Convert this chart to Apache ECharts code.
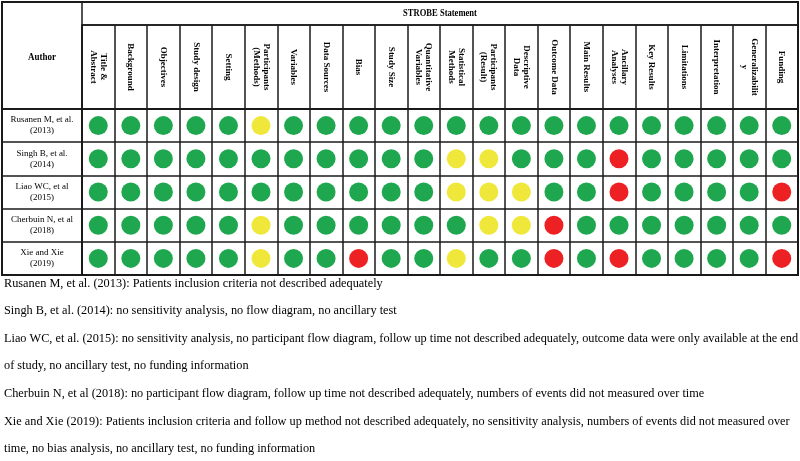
<!DOCTYPE html>
<html>
<head>
<meta charset="utf-8">
<title>STROBE Statement</title>
<script src="https://cdn.jsdelivr.net/npm/echarts@6/dist/echarts.min.js"></script>
<style>
  html, body { margin: 0; padding: 0; background: #fff; }
  #chart { width: 800px; height: 461px; }
</style>
</head>
<body>
<div id="chart"></div>
<script>
// STROBE items (columns)
var items = [
  'Title &\nAbstract', 'Background', 'Objectives', 'Study design', 'Setting',
  'Participants\n(Methods)', 'Variables', 'Data Sources', 'Bias', 'Study Size',
  'Quantitative\nVariables', 'Statistical\nMethods', 'Participants\n(Result)',
  'Descriptive\nData', 'Outcome Data', 'Main Results', 'Ancillary\nAnalyses',
  'Key Results', 'Limitations', 'Interpretation', 'Generalizabilit\ny', 'Funding'
];
var authors = [
  'Rusanen M, et al.\n(2013)',
  'Singh B, et al.\n(2014)',
  'Liao WC, et al\n(2015)',
  'Cherbuin N, et al\n(2018)',
  'Xie and Xie\n(2019)'
];
// 0 = green, 1 = yellow, 2 = red
var rusanen  = [0,0,0,0,0,1,0,0,0,0,0,0,0,0,0,0,0,0,0,0,0,0];
var singh    = [0,0,0,0,0,0,0,0,0,0,0,1,1,0,0,0,2,0,0,0,0,0];
var liao     = [0,0,0,0,0,0,0,0,0,0,0,1,1,1,0,0,2,0,0,0,0,2];
var cherbuin = [0,0,0,0,0,1,0,0,0,0,0,0,1,1,2,0,0,0,0,0,0,0];
var xie      = [0,0,0,0,0,1,0,0,2,0,0,1,0,0,2,0,2,0,0,0,0,2];
var rows = [rusanen, singh, liao, cherbuin, xie];

var notes = [
  'Rusanen M, et al. (2013): Patients inclusion criteria not described adequately',
  'Singh B, et al. (2014): no sensitivity analysis, no flow diagram, no ancillary test',
  'Liao WC, et al. (2015): no sensitivity analysis, no participant flow diagram, follow up time not described adequately, outcome data were only available at the end',
  'of study, no ancillary test, no funding information',
  'Cherbuin N, et al (2018): no participant flow diagram, follow up time not described adequately, numbers of events did not measured over time',
  'Xie and Xie (2019): Patients inclusion criteria and follow up method not described adequately, no sensitivity analysis, numbers of events did not measured over',
  'time, no bias analysis, no ancillary test, no funding information'
];

var colors = ['#1fa74f', '#efe83b', '#ed2024'];
var lineColor = '#1a1a1a';
var serif = '"Liberation Serif", "Times New Roman", serif';

var points = [];
rows.forEach(function (row, r) {
  row.forEach(function (v, c) {
    points.push([c, r, v]);
  });
});

var split = { show: true, interval: 0, lineStyle: { color: lineColor, width: 1.5 } };

var graphics = [
  { type: 'rect', shape: { x: 2, y: 2, width: 796, height: 273 },
    style: { fill: 'none', stroke: lineColor, lineWidth: 2 } },
  { type: 'line', shape: { x1: 82, y1: 2, x2: 82, y2: 275 },
    style: { stroke: lineColor, lineWidth: 1.5 } },
  { type: 'line', shape: { x1: 82, y1: 25, x2: 798, y2: 25 },
    style: { stroke: lineColor, lineWidth: 1.5 } },
  { type: 'line', shape: { x1: 2, y1: 109, x2: 798, y2: 109 },
    style: { stroke: lineColor, lineWidth: 1.5 } },
  { type: 'text', x: 42, y: 57, scaleX: 0.9,
    style: { text: 'Author', font: 'bold 10px ' + serif, fill: '#000', align: 'center', verticalAlign: 'middle' } },
  { type: 'text', x: 440, y: 14, scaleX: 0.9,
    style: { text: 'STROBE Statement', font: 'bold 9.5px ' + serif, fill: '#000', align: 'center', verticalAlign: 'middle' } }
];
notes.forEach(function (t, i) {
  graphics.push({
    type: 'text', x: 4, y: 283 + i * 27.6, scaleX: 0.91,
    style: { text: t, font: '13.5px ' + serif, fill: '#000', verticalAlign: 'middle' }
  });
});

var chart = echarts.init(document.getElementById('chart'));
chart.setOption({
  backgroundColor: '#fff',
  animation: false,
  grid: [
    { left: 82, top: 25, width: 716, height: 84, outerBoundsMode: 'none',
      show: true, borderColor: lineColor, borderWidth: 1.5 },
    { left: 2, top: 109, width: 80, height: 166, outerBoundsMode: 'none',
      show: true, borderColor: lineColor, borderWidth: 1.5 },
    { left: 82, top: 109, width: 716, height: 166, outerBoundsMode: 'none',
      show: true, borderColor: lineColor, borderWidth: 1.5 }
  ],
  xAxis: [
    {
      gridIndex: 0, type: 'category', data: items, position: 'bottom',
      axisLine: { show: false }, axisTick: { show: false }, splitLine: split,
      axisLabel: {
        inside: true, interval: 0, rotate: -90, margin: 42,
        align: 'center', verticalAlign: 'middle',
        fontFamily: serif, fontWeight: 'bold', fontSize: 9, lineHeight: 10, color: '#000'
      }
    },
    { gridIndex: 1, type: 'value', show: false },
    {
      gridIndex: 2, type: 'category', data: items,
      axisLine: { show: false }, axisTick: { show: false }, axisLabel: { show: false },
      splitLine: split
    }
  ],
  yAxis: [
    { gridIndex: 0, type: 'value', show: false },
    {
      gridIndex: 1, type: 'category', data: authors, inverse: true,
      axisLine: { show: false }, axisTick: { show: false }, splitLine: split,
      axisLabel: {
        inside: true, interval: 0, margin: 40, align: 'center', verticalAlign: 'middle',
        fontFamily: serif, fontSize: 9, lineHeight: 11, color: '#000'
      }
    },
    {
      gridIndex: 2, type: 'category', data: authors, inverse: true,
      axisLine: { show: false }, axisTick: { show: false }, axisLabel: { show: false },
      splitLine: split
    }
  ],
  series: [{
    type: 'scatter',
    xAxisIndex: 2,
    yAxisIndex: 2,
    symbol: 'circle',
    symbolSize: 19,
    silent: true,
    itemStyle: {
      opacity: 1,
      color: function (p) { return colors[p.value[2]]; }
    },
    data: points
  }],
  graphic: graphics
});
</script>
</body>
</html>
